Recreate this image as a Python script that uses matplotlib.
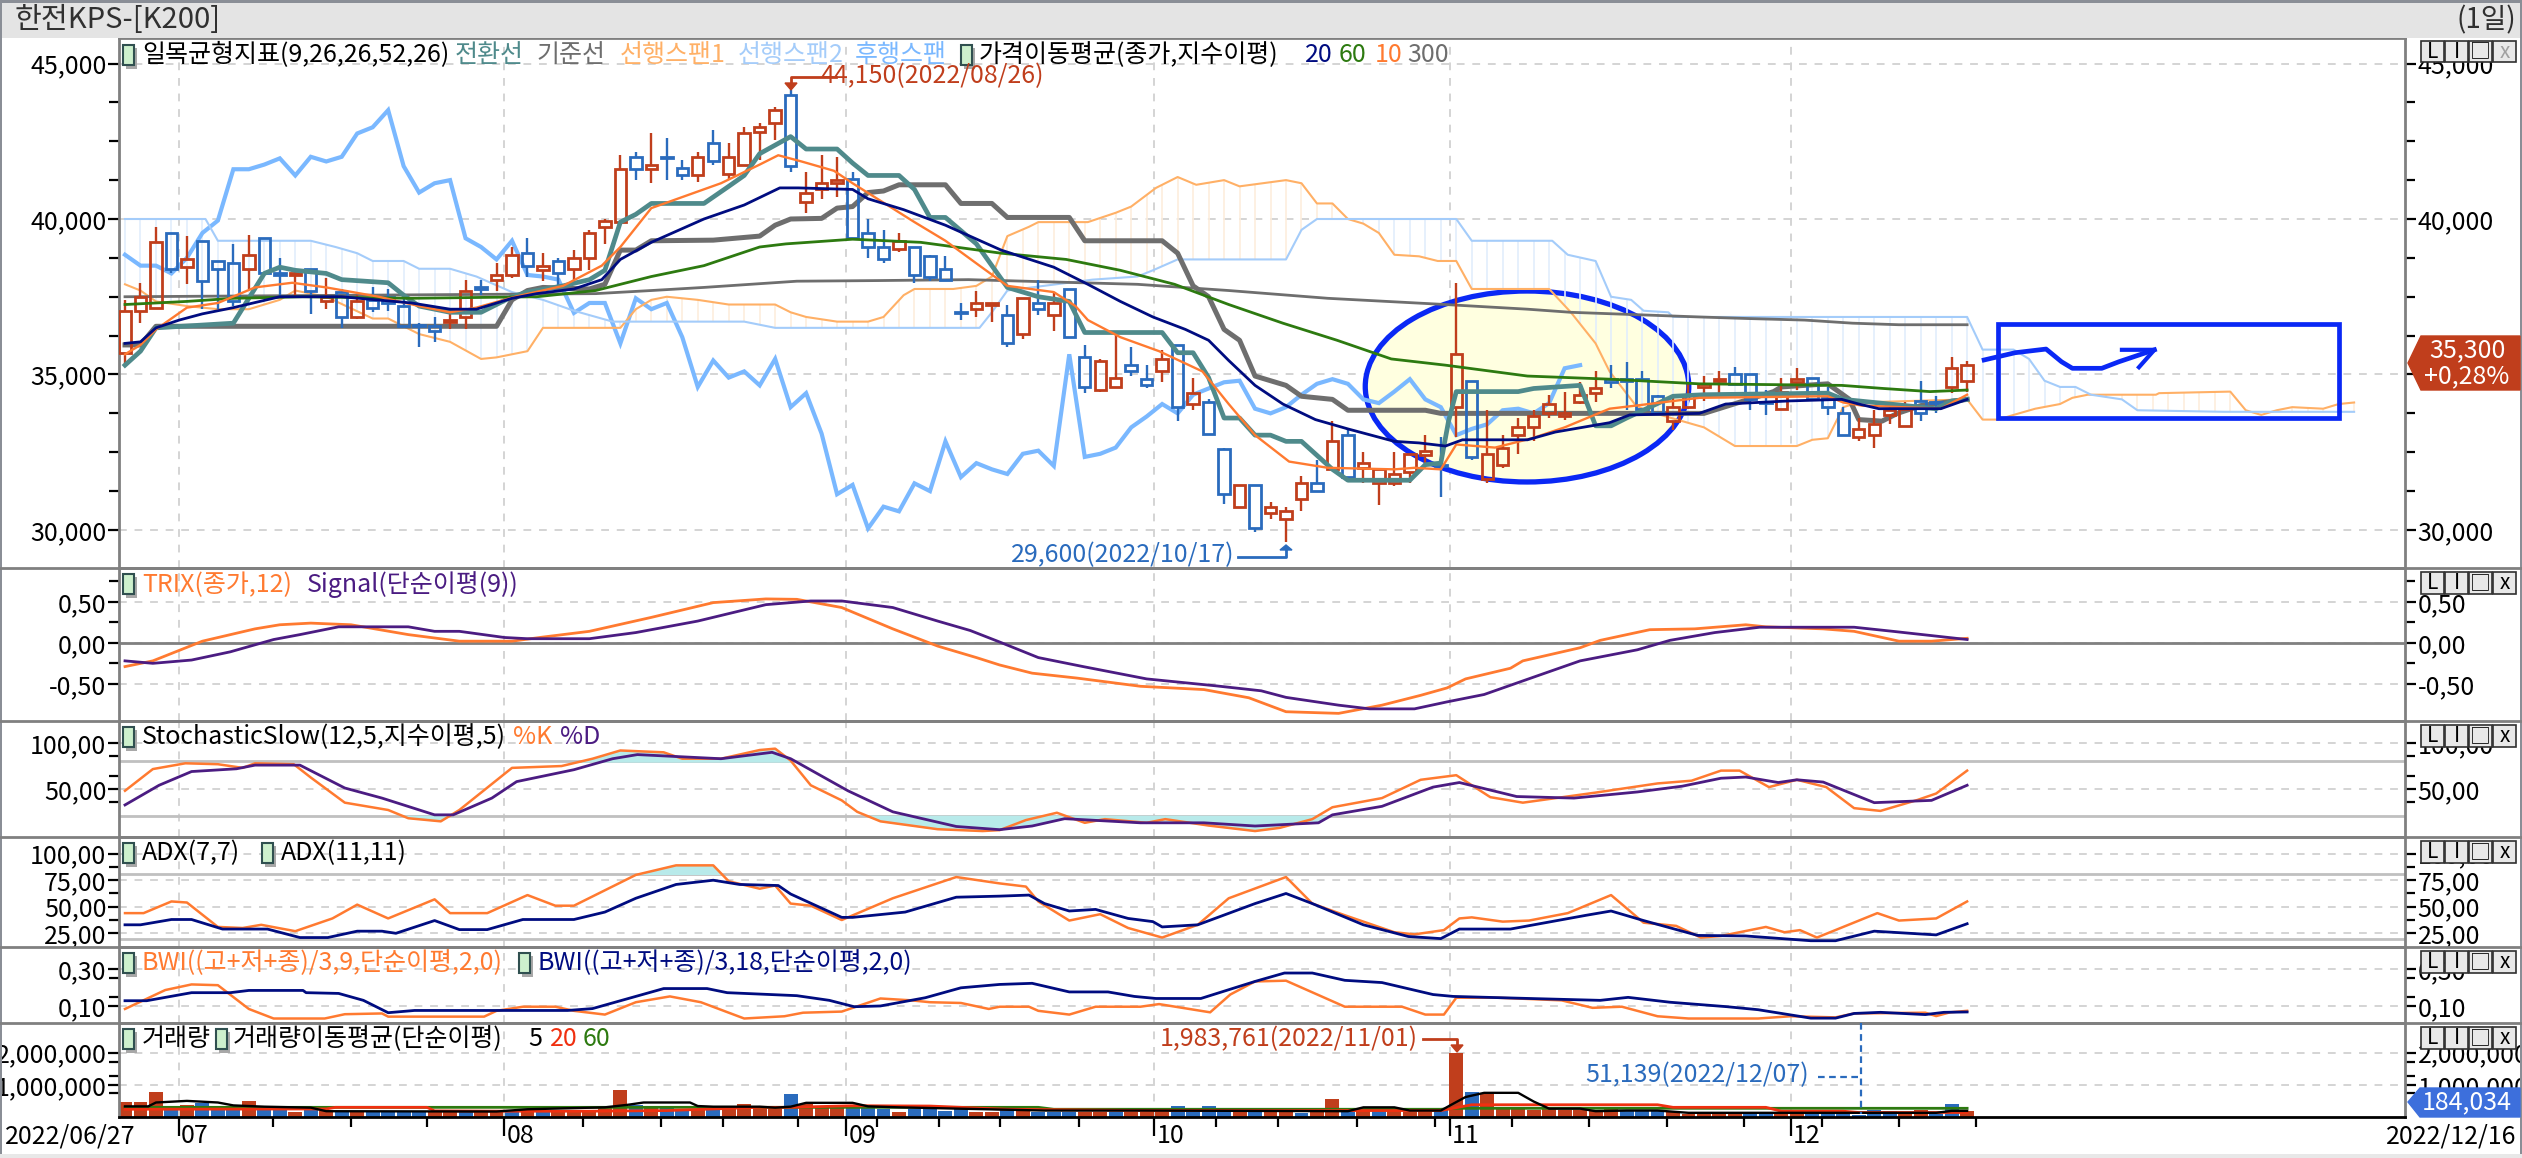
import numpy as np
import matplotlib
matplotlib.use("Agg")
import matplotlib.pyplot as plt
from matplotlib.patches import Ellipse, Rectangle, Polygon

plt.rcParams['font.family'] = ['Liberation Sans Narrow', 'Noto Sans CJK KR', 'DejaVu Sans']
plt.rcParams['font.size'] = 18
plt.rcParams['axes.unicode_minus'] = False

W, H = 2522, 1158

# candles: body top, body bottom, high, low
body_top = [37050,37500,39250,39550,38700,39300,38650,38600,38850,39400,38250,38250,38400,37500,37650,37350,37400,37500,37200,36600,
            36550,36750,37700,37800,38200,38850,38900,38500,38650,38750,39550,39950,41600,42000,41750,42000,41650,42000,42450,42000,
            42750,42950,43500,44000,40850,41150,41250,41300,39550,39100,39300,39100,38800,38400,37020,37300,37300,36900,37450,37300,
            37300,37750,35550,35450,34900,35300,34850,35500,35950,34400,34100,32600,31450,31450,30750,30600,31500,31500,32850,33050,
            32150,31950,31800,32450,32550,32100,35650,34800,32450,32650,33300,33650,34050,33750,34350,34550,34850,34850,34850,34300,
            33950,34350,34700,34850,35000,35000,34120,34450,34850,34900,34250,33750,33250,33400,33850,33900,34150,34120,35200,35300]
body_bot = [35700,37050,37150,38400,38450,38000,38400,37350,38400,38250,38200,38200,37700,37350,36850,36850,37150,37300,36550,36550,
            36400,36700,36850,37750,38050,38200,38500,38350,38250,38400,38750,39750,39900,41600,41600,41950,41400,41400,41850,41450,
            41750,42800,43100,41700,40550,40950,41150,39380,39100,38700,39050,38200,38150,38050,36980,37100,37250,36000,36300,37100,
            36900,36200,34600,34500,34600,35100,34650,35100,33950,34050,33100,31150,30750,30050,30550,30350,31000,31250,31950,31700,
            32000,31500,31500,31850,32400,32060,33950,32350,31650,32100,33050,33300,33750,33650,34100,34400,34750,34800,33900,33750,
            33500,33950,34600,34800,34700,34200,34080,33900,34750,34200,33950,33050,33000,33050,33700,33350,33750,34080,34600,34800]
high = [37400,37950,39750,39550,39450,39300,38650,39200,39500,39400,38750,38400,38400,38100,37750,37550,37800,37750,37500,36650,
        36850,37150,38050,38050,38600,39100,39400,38900,38750,39000,39650,40000,42050,42150,42750,42600,41900,42150,42850,42450,
        42950,43100,43600,44150,41500,42050,42000,41500,40000,39650,39550,39100,38850,38800,37300,37700,37300,37250,37450,38050,
        37650,37750,35950,35500,36400,35900,35300,35800,35950,34900,34200,32650,31450,31450,30900,30750,31750,32250,33500,33250,
        32500,31950,32500,32450,33050,33000,37950,34800,33850,33050,33600,33850,34350,34450,34750,35100,35300,35400,35100,34350,
        34350,34700,34950,35100,35250,35000,34500,34900,35200,34900,34600,33950,33600,33850,34000,34100,34800,34300,35550,35450]
low = [35350,36650,37100,38250,37900,37100,37100,37200,37750,38250,37450,37500,36950,37100,36500,36800,37000,37050,36500,35900,
       36050,36450,36450,37550,37700,38100,38150,38000,37850,38050,38350,39200,39800,41250,41150,41250,41250,41200,41750,41250,
       41700,41900,42550,41500,40200,40650,40700,39380,38750,38600,38950,37950,38000,38000,36750,36850,36700,35900,36150,36900,
       36400,36200,34400,34450,34600,34950,34550,34750,33500,33850,33050,30850,30750,29950,30350,29600,30600,31250,31950,31650,
       31500,30800,31400,31500,32100,31050,33000,32250,31500,32000,32450,32850,33600,33550,34050,34100,34550,33850,33850,33750,
       33200,33900,34150,34400,34650,33850,33700,33850,34500,34200,33700,33050,32850,32650,33400,33350,33500,33750,34400,34450]
# 1 when the candle closed above its open
rising = [1,1,1,0,1,0,0,0,1,0,0,1,0,1,0,1,0,0,0,0,
          0,1,1,0,1,1,0,1,0,1,1,1,1,0,1,0,0,1,0,1,
          1,1,1,0,1,1,1,0,0,0,1,0,0,0,0,1,1,0,1,0,
          1,0,0,1,1,0,0,1,0,1,0,0,1,0,1,1,1,0,1,0,
          1,1,1,1,1,0,1,0,1,1,1,1,1,1,1,1,0,0,0,0,
          1,1,1,1,0,0,0,1,1,0,0,0,1,1,1,1,0,0,1,1]

tenkan_x = [0,1,2,7,8,9,10,11,13,14,17,18,19,21,23,25,26,28.3,30,31,32,33,34,37.4,39,40,41,43,44,46,47,48,50,51,52,53,55,57,59,61,62,67,68,69,70,71,72,73,74,75,76,78,79,83,84,85,85.5,86,90,91,94,95,96,97,100,102,110,111,112,114,117,118,119]
tenkan = [35300,35750,36500,36650,37450,38250,38450,38350,38250,38050,37950,37550,37200,37000,37000,37500,37650,37850,38050,38350,39900,40150,40500,40500,41050,41400,42100,42650,42250,42250,41800,41400,41400,40950,40050,40050,39200,37800,37500,37350,36350,36350,35700,35700,34900,33600,33600,33050,33050,32850,32850,31950,31600,31600,32100,32150,33500,34450,34450,34550,34650,33350,33350,33600,34300,34350,34400,34200,34150,34050,33900,34150,34200]
kijun_x = [0,1,2,24,25,26,27,28,30,31,32,33,34,38,41,42,43,45,46,47,48,49,50,53,54,56,57,61,62,67,68,69,70,71,72,73,75,76,78,79,84,85,102,106.5,107,110,111.4,112,113.5,114.5,116,119]
kijun = [35950,35950,36550,36550,37400,37700,37800,37780,37750,37900,39000,39000,39300,39320,39450,39800,40000,40020,40350,40400,40850,40900,41100,41100,40500,40500,40050,40050,39300,39300,38900,37850,37500,36450,36100,34950,34650,34300,34200,33850,33850,33750,33750,34450,34600,34700,34200,33550,33500,33750,34000,34200]
ma20_x = [0,1,2,3.5,5,7,10,14,18.5,21,22.7,25,26.6,29,30.8,32,34,37.4,40,42.3,43.5,47,48,50.3,53,56.6,60,62.2,64.3,66.4,68.5,70,71.3,73,74.8,76.9,79,82,83.6,85.3,86.4,90.6,92.4,95.9,97.2,101.7,103.4,107.5,110.9,112,113.3,117.3,119]
ma20 = [36000,36050,36500,36750,36950,37150,37500,37500,37300,37100,37100,37450,37600,37750,38050,38700,39250,40000,40450,41000,41000,40950,40650,40300,39800,39000,38450,37900,37350,36850,36450,36100,35450,34650,34050,33550,33250,32850,32800,32700,32900,32900,33150,33450,33700,33750,34050,34150,34200,34050,33900,33900,34200]
ma60_x = [0,4,7,11.5,18.5,26.6,30.4,34,37.4,41,42.7,47,51.4,56.6,60.8,64.3,67.8,71.3,74.8,78.3,81.8,85.3,90.6,95.9,101.7,110.9,113.6,116.6,119]
ma60 = [37250,37350,37450,37500,37450,37500,37700,38150,38500,39100,39200,39350,39250,38900,38700,38350,37900,37250,36650,36100,35500,35300,34950,34850,34700,34650,34550,34450,34500]
ma10_x = [0,1,2,4,6,8.4,10.8,13,14.7,16.4,19,21,22.7,25.2,28.3,30.8,32,34,38.5,41,42.2,43.7,45.8,47,48.6,51,53,55.2,57,60,61.4,62.2,64.3,66.8,69.6,71.3,73,75.2,77.7,82,83.3,85,86,88.5,90.9,93,95.9,97.6,101.7,110,111,112.2,117.3,119]
ma10 = [35650,35950,36450,37150,37300,37800,37950,37800,37650,37500,37200,37000,37150,37500,37850,38500,39100,40350,41150,41750,42050,41850,41550,41150,40650,39900,39300,38500,37850,37650,37200,36750,36200,35750,35100,34050,33050,32200,32000,31950,32000,31950,32750,32650,32950,33300,33900,34000,34250,34300,34100,34000,33900,34350]
ma300_x = [0,30.4,34,37.4,43.4,48.6,54.5,65.4,71.3,77.7,85.3,90.6,93.4,101.7,104.8,108.5,111.6,114.6,119]
ma300 = [37500,37600,37700,37800,38000,38020,38050,37900,37700,37450,37250,37100,37000,36850,36800,36750,36650,36600,36600]
span2_x = [0,5.2,6,12,13.6,15,16,18,19,21,22.7,25,27,29,31.5,40,42,55.2,56,57,62.5,65.4,66.4,68,75,76,77,86,87,92.2,93.2,95,96,97.3,98.1,99.7,100,119,120,122,123,124,125,126,127,129,130,135.6,144]
span2 = [40000,40000,39300,39300,39100,38900,38650,38650,38400,38400,38150,37650,37400,37050,36700,36700,36500,36500,37000,37700,38050,38150,38350,38700,38700,39650,40000,40000,39300,39300,38850,38650,37500,37400,37050,37000,36850,36850,35800,35800,35500,34800,34600,34600,34350,34200,33850,33800,33800]
span1_x = [0,1,2,4,6,8,10,11,13,16,17,19,21,23,24,26,27,32,33,34,35,37,39,42,43,44,46,48,49,50.3,51,53.5,55,56,57,58.4,59,62.2,64,65,66.6,68,69.2,71,72,75,76,77,78,79,80,81,82,83.6,84.8,86,87,92,93.4,95,95.9,97.6,98.5,102,104,108,109,110,111,112,119,120,121,122,123.4,125,125.8,126.8,131.2,131.4,136,137,138,139,140,142,143,144]
span1 = [37900,37700,37350,37200,37100,37100,37400,37700,37500,36800,36800,36300,36050,35500,35550,35750,36500,36500,37100,37400,37500,37400,37250,37250,37000,36850,36700,36700,36850,37550,37750,37750,37850,38150,39450,39750,39900,39900,40200,40400,41000,41350,41100,41250,41050,41250,41150,40500,40500,40000,39850,39550,38850,38800,38650,38650,37750,37750,37000,36000,35100,34000,33800,33300,32700,32700,32900,32950,33950,34100,34200,33550,33550,33700,33900,34050,34250,34350,34350,34400,34450,33850,33700,33850,33950,33900,34050,34100]

trix_x = [0,1.8,5,8.4,10,12,14.6,18.3,21.6,25,27,30,34,38,41.4,43.4,46.3,49.6,52.5,55,56.5,58.6,61.5,65.6,69.7,72.6,75,78.4,81.2,83.7,85.4,86.6,89.5,90.3,94,95.3,98.5,101.4,104.7,106,109.7,111.7,114.6,116.7,119]
trix = [-.29,-.22,.02,.17,.22,.24,.22,.10,.02,.02,.07,.14,.31,.49,.535,.53,.43,.17,-.04,-.18,-.27,-.37,-.43,-.53,-.57,-.67,-.84,-.86,-.76,-.64,-.55,-.44,-.31,-.22,-.06,.03,.16,.17,.22,.195,.17,.14,.02,.02,.055]
signal_x = [0,1.8,4.3,6.8,9.6,11.3,13.8,18.3,20,21.6,24.5,26,30,33,37,41.4,44.3,46.3,49.6,52.5,54.6,56.5,59,61.9,66,70.5,73.4,75,78.4,80.4,83.3,85.4,87.8,91.5,94,97.7,99.8,102.7,105.6,111.7,114.2,119]
signal = [-.22,-.25,-.21,-.11,.04,.10,.195,.195,.14,.14,.065,.05,.05,.125,.265,.465,.51,.51,.43,.265,.15,.01,-.18,-.29,-.44,-.525,-.585,-.665,-.76,-.805,-.805,-.72,-.63,-.385,-.22,-.085,.03,.125,.19,.19,.14,.04]

stok_x = [0,1.8,3.9,6,7.6,8.4,10.9,12,14.2,17,18.3,20.4,21.6,25,28.2,30.2,32,34.8,36,38.5,41,42,43,44.3,46.3,47.3,48.8,52.5,55.4,56.5,58.2,60.2,62,63.3,66,67.2,70,73,74.6,76.7,78,81.2,83.7,86,88.2,90.3,95,99,101.2,103.1,104.3,106.2,108,109.9,111.7,113.4,115.8,117,119]
stok = [48,71.7,78,77,73,78,77,62.5,35,27,18,14.6,27,73,75,83,92,90,83,83,92.5,94,81,54,37.5,25,14.6,6,4,5,16,24,13,17,13,17,10,4,7.5,17,30,40,60,65,41,35,46,56,59,70,70,52,60,52,29,26,38,45,70]
stod_x = [0,2.2,4.3,7.2,8.4,11.3,14.2,16.6,20,21.2,23.7,25.3,29,31.5,33.1,38.5,41.8,43,46.7,49.6,53.7,56.5,58.6,60.7,65.6,69.7,73,77.1,78,81.2,84.5,86.2,89.9,93.6,97.7,100.6,103.1,104.7,106.8,108,109.7,113,116.7,119]
stod = [32.5,54,69,72,76,76,51,40,21.7,21.7,40,58,71,83,87.5,83,90,83,48,25,9,5.5,9.5,17.5,13,13,9.5,13,21.7,31,52,57,41.7,40,46.7,53,61.7,63,57,60,57.5,35,37.5,54]

adx7_x = [0,1.2,3,4,6,7.6,8.8,11,13.4,15,17,20,21,23.4,26,27.8,29,33,35.6,38,39,41,42,43,44.3,46.3,49.6,53.7,56.5,58.2,59,61,63,64.8,67,69.3,71.3,75,76.7,78.8,82,83.3,85.2,86.2,87,89,90.7,93.2,96,98.1,100.2,101.8,103.1,106,107.2,108.2,109.3,113.2,114.6,117,119]
adx7 = [44,44,55,54,31,30,33,27,39,52,39,57,44,44,61,51,51,80,89,89,74,67,70,53,51,37.5,58,78,72,69,55,37,43,30,21,33,58,78,53,42,26,24,28,39,40,36,37,44,61,35,32,21,22.5,31,26,28,21,44,37,39,55]
adx11_x = [0,1,3,4.3,6.3,9.2,11.3,13.1,15,16.6,17.5,20,21.6,23.4,25.7,29,31,33,35.6,38,39.7,42.2,43,46.3,47,50.4,53.7,56.5,58.4,59.4,61,62.7,64.8,66.4,67,69.3,73,75,76.7,80,82.9,85,86.2,89.5,94.4,96,98.1,101.6,104.7,108.9,110.5,113,117,119]
adx11 = [33,33,38,38,29,29,21,21,27,27,25,37,28.5,28.5,38,38,45,58,71,75,71,70,62,40,40,45,59,60,61,53,46,47.5,39,36,31,33,53,62.5,53,33,22,20,29,29,42,46,37,23,22.5,18,18,27,23.5,34]

bwi9_x = [0,2.6,4.3,6,8,9.6,12.9,14.2,16.6,17,23.2,24,25.7,27.8,29,31,33,35.2,37.2,40,42.6,43.8,46.3,48.8,50.8,52,54,55.8,56.5,58.4,59,61,62.7,65.6,66.8,70.1,71.4,73,75,78.8,82.5,84,85.2,86,88.7,92.8,94.8,96.7,99,101,105.5,107.6,110.5,111.7,116.3,117,117.9,119]
bwi9 = [.086,.187,.217,.213,.086,.035,.035,.058,.062,.045,.045,.076,.098,.098,.076,.056,.122,.153,.122,.035,.047,.066,.072,.142,.132,.122,.118,.086,.098,.098,.076,.056,.098,.098,.112,.068,.163,.233,.237,.098,.098,.056,.056,.146,.146,.132,.092,.098,.047,.035,.035,.047,.041,.062,.066,.048,.068,.076]
bwi18_x = [0,1.4,4.3,6.8,8,11.5,11.7,13.8,15.4,17,18.7,28.6,30.2,34.8,37.6,38.9,43.4,45.5,47.1,48.8,51.7,54,56.5,58.6,61,63.5,65.2,66.6,69.5,73,74.9,76.7,78.8,81.2,84.5,85.8,90.7,95.3,97.1,99.8,103.5,105.5,108.9,110.5,111.7,113.4,116.3,117.5,119]
bwi18 = [.13,.13,.173,.173,.185,.185,.173,.169,.132,.066,.078,.078,.088,.195,.195,.173,.157,.132,.098,.102,.146,.199,.217,.223,.177,.177,.153,.142,.142,.233,.278,.278,.239,.227,.163,.153,.142,.132,.148,.122,.098,.082,.037,.037,.062,.068,.056,.068,.07]

volume = [476,452,774,270,380,440,274,274,510,300,202,155,260,180,180,180,145,145,145,145,
          180,155,155,214,214,155,180,155,180,180,180,333,833,357,333,333,238,238,238,238,
          390,298,298,714,415,274,298,298,298,238,155,238,274,180,274,155,155,214,214,155,
          155,155,155,155,155,155,155,155,330,155,330,155,155,155,155,155,119,155,570,214,
          214,238,214,155,202,202,1983.761,770,714,274,274,214,274,214,214,214,238,180,180,180,
          155,83,83,83,83,83,119,83,83,83,119,83,51.139,202,180,119,214,83,390,184.034]
vol_colors = "rrrbrbbbrbbrbrbrbbbbrrbrrbrbrrrrrbrbbrbrrrrbrrrbbbrbbbbrr"[:57] + \
             "brbbbrrbrrrbbbbrbrrbrrbrbrrrbrbrrrrrrrrrbbbrrrrrbbrrbbbbbbrrrbbrr"[:0]
vol_colors = "rrrbrbbbrbbrbrbrbbbbrrbrrbrbrrrrrbrbbrbrrrrbrrrbbbrbbbbrr" + \
             "brbbbrrbrrrbbbbrbrrbrrbrbrrrbrbrrrrrrrrrbbbrrrrrbbrrbbbbbbrrbbrr"
vol_colors = (vol_colors + "r" * 120)[:120]

vol5_x = [0,1.5,2,4,6,7,9,12,13,24,26,31,32.5,33.5,36.5,37,38,41,42,43,44,47,48,50,59.4,65.6,79,80,82,83,85,85.6,86.6,87.8,90,91,92,94,95,97,99,101,105,107,112,117,118,119]
vol5 = [330,330,450,500,450,360,320,290,180,170,240,300,380,450,450,340,320,320,290,320,440,440,330,300,200,200,180,300,300,200,200,360,620,750,750,480,260,260,180,200,200,130,130,130,130,130,190,190]
vol20_x = [0,13,13.6,19.5,20,25,30,35,41,43,47,52,57,66,85,87,99,100,106,107,111,112,119]
vol20 = [240,250,300,300,190,180,180,200,300,300,350,340,240,200,200,380,380,300,300,180,180,140,140]
vol60_x = [0,40,59,60,85,86,119]
vol60 = [300,300,300,240,240,270,270]

price_ticks = [45000, 40000, 35000, 30000]
price_labels = ["45,000", "40,000", "35,000", "30,000"]
month_pos = [3.5, 24.5, 46.6, 66.5, 85.6, 107.6]
month_labels = ["07", "08", "09", "10", "11", "12"]
week_pos = [9.56,14.6,19.5,29.6,34.6,38.6,43.5,48.6,52.6,56.5,61.6,70.5,74.5,79.6,84.6,89.6,94.6,99.6,104.6,109.6,114.6,119.6]

RED = "#c03e1c"
BLUE = "#2a6bbd"
TEAL = "#4f8a8b"
GRAY = "#6e6e6e"
NAVY = "#000c80"
GREEN = "#2d7a10"
ORANGE = "#ff7a30"
PURPLE = "#4b1c82"
SPAN1 = "#ffb066"
SPAN2 = "#a4ccfa"
CHIKOU = "#7ab8ff"
FRAME = "#808080"
DRAW = "#0a28f5"

fig = plt.figure(figsize=(W / 100, H / 100), dpi=100, facecolor="white")

def panel(top, bottom, ylim):
    ax = fig.add_axes([119 / W, 1 - bottom / H, (2405 - 119) / W, (bottom - top) / H])
    ax.set_xlim((119 - 125) / 15.48, (2405 - 125) / 15.48)
    ax.set_ylim(*ylim)
    ax.set_xticks([])
    for side in ["left", "right", "top", "bottom"]:
        ax.spines[side].set_color(FRAME)
        ax.spines[side].set_linewidth(2)
    for m in month_pos:
        ax.axvline(m, color="#d4d4d4", lw=1.4, ls=(0, (4, 4)), zorder=0)
    return ax

def set_ticks(ax, major, labels, minor):
    ax.set_yticks(major, labels)
    ax.set_yticks(minor, minor=True)
    ax.tick_params(axis="y", which="major", left=True, right=True, labelleft=True, labelright=True,
                   length=8, width=1.6, pad=1, labelsize=18)
    ax.tick_params(axis="y", which="minor", left=True, right=True, length=7, width=1.6)
    for v in major:
        ax.axhline(v, color="#d4d4d4", lw=1.4, ls=(0, (4, 4)), zorder=0)

# price panel
ax = panel(38, 568, (28778, 45820))
set_ticks(ax, price_ticks, price_labels, [43750, 42500, 41250, 38750, 37500, 36250, 33750, 32500, 31250])
ax.add_patch(Ellipse((90.57, 34614), 20.9, 6140, facecolor="#ffffe0", edgecolor=DRAW, lw=3.8, zorder=1))

cloud_x = np.arange(0, 145)
s1 = np.interp(cloud_x, span1_x, span1)
s2 = np.interp(cloud_x, span2_x, span2)
ax.vlines(cloud_x[s2 >= s1], s1[s2 >= s1], s2[s2 >= s1], color="#e2edfc", lw=1.2, zorder=1.5)
ax.vlines(cloud_x[s2 < s1], s2[s2 < s1], s1[s2 < s1], color="#fdeedd", lw=1.2, zorder=1.5)

idx = np.arange(len(high))
close = np.array([t if r else b for t, b, r in zip(body_top, body_bot, rising)])
ax.plot(idx[:95], close[25:], color=CHIKOU, lw=3, zorder=2, solid_joinstyle="miter")
ax.plot(span1_x, span1, color=SPAN1, lw=1.5, zorder=2)
ax.plot(span2_x, span2, color=SPAN2, lw=1.5, zorder=2)
ax.plot(ma300_x, ma300, color=GRAY, lw=2.0, zorder=2)
ax.plot(kijun_x, kijun, color=GRAY, lw=3.6, zorder=3)

cols = [RED if r else BLUE for r in rising]
top_arr = np.array(body_top)
bot_arr = np.array(body_bot)
ax.vlines(idx, top_arr, high, color=cols, lw=1.7, zorder=4)
ax.vlines(idx, low, bot_arr, color=cols, lw=1.7, zorder=4)
ax.bar(idx, top_arr - bot_arr, bottom=bot_arr, width=0.74, facecolor="none", edgecolor=cols, linewidth=2, zorder=4)

ax.plot(tenkan_x, tenkan, color=TEAL, lw=3.4, zorder=5)
ax.plot(ma60_x, ma60, color=GREEN, lw=2.0, zorder=5)
ax.plot(ma10_x, ma10, color=ORANGE, lw=1.7, zorder=5)
ax.plot(ma20_x, ma20, color=NAVY, lw=2.0, zorder=5)

# hand drawn box and arrow
ax.add_patch(Rectangle((121.0, 33600), 22.0, 3035, facecolor="none", edgecolor=DRAW, lw=3.4, zorder=6))
ax.plot([120.1, 122.1, 124.1, 125.1, 125.8, 127.7, 128.8, 131.1],
        [35467, 35700, 35818, 35409, 35199, 35199, 35409, 35794], color=DRAW, lw=3.4, zorder=6)
ax.plot([129, 131.1, 130.1], [35794, 35794, 35234], color=DRAW, lw=3.0, zorder=6)

# TRIX panel
ax_t = panel(568.4, 721, (-0.953, 0.907))
set_ticks(ax_t, [0.5, 0, -0.5], ["0,50", "0,00", "-0,50"], [0.75, 0.25, -0.25])
ax_t.axhline(0, color=FRAME, lw=2, zorder=1)
ax_t.plot(trix_x, trix, color=ORANGE, lw=2, zorder=3)
ax_t.plot(signal_x, signal, color=PURPLE, lw=2, zorder=3)

# Stochastic panel
ax_s = panel(721, 837, (-2.5, 124.2))
set_ticks(ax_s, [100, 50], ["100,00", "50,00"], [86, 64, 36])
ax_s.axhline(80, color="#c0c0c0", lw=2, zorder=1)
ax_s.axhline(20, color="#c0c0c0", lw=2, zorder=1)
xx = np.arange(0, 119.01, 0.1)
k = np.interp(xx, stok_x, stok)
d = np.interp(xx, stod_x, stod)
ax_s.fill_between(xx, 80, np.maximum(k, d), where=np.maximum(k, d) > 80, color="#b8eaea", zorder=2)
ax_s.fill_between(xx, 20, np.minimum(k, d), where=np.minimum(k, d) < 20, color="#b8eaea", zorder=2)
ax_s.plot(stok_x, stok, color=ORANGE, lw=1.8, zorder=3)
ax_s.plot(stod_x, stod, color=PURPLE, lw=2, zorder=3)

# ADX panel
ax_a = panel(837, 947, (12.1, 115.7))
set_ticks(ax_a, [100, 75, 50, 25], ["100,00", "75,00", "50,00", "25,00"], [87.5, 62.5, 37.5])
ax_a.axhline(81, color="#c0c0c0", lw=2, zorder=1)
ax_a.axhline(20, color="#c0c0c0", lw=2, zorder=1)
a7 = np.interp(xx, adx7_x, adx7)
ax_a.fill_between(xx, 81, a7, where=a7 > 81, color="#b8eaea", zorder=2)
ax_a.plot(adx7_x, adx7, color=ORANGE, lw=1.8, zorder=3)
ax_a.plot(adx11_x, adx11, color=NAVY, lw=2, zorder=3)

# BWI panel
ax_b = panel(947, 1023, (0.011, 0.417))
set_ticks(ax_b, [0.3, 0.1], ["0,30", "0,10"], [0.25, 0.15])
ax_b.plot(bwi9_x, bwi9, color=ORANGE, lw=1.8, zorder=3)
ax_b.plot(bwi18_x, bwi18, color=NAVY, lw=2, zorder=3)

# volume panel
ax_v = panel(1023, 1117, (0, 2917))
set_ticks(ax_v, [2000, 1000], ["2,000,000", "1,000,000"], [1700, 1270, 750])
ax_v.bar(idx, volume, width=0.9, color=[RED if c == "r" else BLUE for c in vol_colors], zorder=2)
ax_v.plot(vol60_x, vol60, color=GREEN, lw=2, zorder=3)
ax_v.plot(vol20_x, vol20, color="#f03010", lw=2, zorder=3)
ax_v.plot(vol5_x, vol5, color="black", lw=1.7, zorder=4)
ax_v.spines["bottom"].set_color("black")
ax_v.spines["bottom"].set_linewidth(2)
ax_v.set_xticks(month_pos, [""] * 6)
ax_v.set_xticks(week_pos, minor=True)
ax_v.tick_params(axis="x", which="major", length=14, width=1.6)
ax_v.tick_params(axis="x", which="minor", length=7, width=1.6)

# everything drawn in screen pixels on top: header, legends, buttons, badges
top = fig.add_axes([0, 0, 1, 1], facecolor="none", zorder=20)
top.set_xlim(0, W)
top.set_ylim(H, 0)
top.axis("off")

def label(x, y, s, color="black", ha="left", size=18):
    top.text(x, y, s, color=color, ha=ha, va="center", fontsize=size)

def icon(x, y):
    top.add_patch(Rectangle((x + 3, y + 3), 11, 21, facecolor="#a8a8a8", edgecolor="none"))
    top.add_patch(Rectangle((x, y), 11, 20, facecolor="#cdf0cd", edgecolor="#305050", lw=1.5))

def buttons(y, h, last="black"):
    for i, s in enumerate(["L", "I", "□", "x"]):
        top.add_patch(Rectangle((2421 + i * 24, y), 23, h, facecolor="#e8e8e8", edgecolor="#303030", lw=1.2))
        label(2432.5 + i * 24, y + h / 2, s, color=last if i == 3 else "black", ha="center", size=15)

top.add_patch(Rectangle((0, 0), W, 38, facecolor="#e4e4e4", edgecolor="none"))
top.add_patch(Rectangle((0, 0), W, 2.5, facecolor="#8a8e96", edgecolor="none"))
top.add_patch(Rectangle((0, 0), 2, 1158, facecolor="#8a8e96", edgecolor="none"))
top.add_patch(Rectangle((W - 2, 0), 2, 1158, facecolor="#8a8e96", edgecolor="none"))
top.add_patch(Rectangle((0, 1154), W, 4, facecolor="#e8e8e8", edgecolor="none"))
for py in [568.4, 721, 837, 947, 1023]:
    top.plot([0, W], [py, py], color=FRAME, lw=2)
label(14, 20, "한전KPS-[K200]", color="#303030", size=21)
label(2516, 20, "(1일)", color="#303030", ha="right", size=20)

icon(123, 45)
label(142, 55, "일목균형지표(9,26,26,52,26)")
label(455, 55, "전환선", TEAL)
label(537, 55, "기준선", GRAY)
label(620, 55, "선행스팬1", SPAN1)
label(738, 55, "선행스팬2", SPAN2)
label(855, 55, "후행스팬", CHIKOU)
icon(961, 45)
label(979, 55, "가격이동평균(종가,지수이평)")
label(1305, 55, "20", NAVY)
label(1339, 55, "60", GREEN)
label(1375, 55, "10", ORANGE)
label(1407, 55, "300", GRAY)

icon(123, 574)
label(142, 585, "TRIX(종가,12)", ORANGE)
label(307, 585, "Signal(단순이평(9))", PURPLE)
icon(123, 727)
label(142, 737, "StochasticSlow(12,5,지수이평,5)")
label(513, 737, "%K", ORANGE)
label(560, 737, "%D", PURPLE)
icon(123, 843)
label(142, 853, "ADX(7,7)")
icon(262, 843)
label(281, 853, "ADX(11,11)")
icon(123, 953)
label(142, 963.5, "BWI((고+저+종)/3,9,단순이평,2,0)", ORANGE)
icon(519, 953)
label(537, 963.5, "BWI((고+저+종)/3,18,단순이평,2,0)", NAVY)
icon(123, 1029)
label(142, 1039, "거래량")
icon(216, 1029)
label(233, 1039, "거래량이동평균(단순이평)")
label(528, 1039, "5")
label(550, 1039, "20", "#f03010")
label(583, 1039, "60", GREEN)

# high / low / volume callouts
label(1044, 76, "44,150(2022/08/26)", RED, ha="right")
top.plot([836, 791, 791], [77, 77, 84], color=RED, lw=2)
top.add_patch(Polygon([[785, 83], [797, 83], [791, 90]], color=RED))
label(1234, 555, "29,600(2022/10/17)", BLUE, ha="right")
top.plot([1238, 1286, 1286], [557, 557, 548], color=BLUE, lw=2)
top.add_patch(Polygon([[1280, 550], [1292, 550], [1286, 545]], color=BLUE))
label(1418, 1039, "1,983,761(2022/11/01)", RED, ha="right")
top.plot([1423, 1457, 1457], [1039, 1039, 1046], color=RED, lw=2)
top.add_patch(Polygon([[1451, 1045], [1463, 1045], [1457, 1052]], color=RED))
label(1809, 1075, "51,139(2022/12/07)", BLUE, ha="right")
top.plot([1818, 1861], [1077, 1077], color=BLUE, lw=1.6, ls=(0, (3, 2)))
top.plot([1861, 1861], [1023, 1114], color=BLUE, lw=1.6, ls=(0, (3, 2)))

# x labels
label(5, 1136, "2022/06/27")
label(2516, 1136, "2022/12/16", ha="right")
for m, s in zip(month_pos, month_labels):
    label(125 + m * 15.48 + 2, 1136, s)

buttons(41, 21, last="#a0a0a0")
for y in [572, 725, 841, 951, 1027]:
    buttons(y, 22)

# price and volume badges
top.add_patch(Polygon([[2408, 363], [2421, 336], [2520, 336], [2520, 390], [2421, 390]], color=RED))
label(2467, 350, "35,300", "white", ha="center")
label(2467, 376, "+0,28%", "white", ha="center")
top.add_patch(Polygon([[2408, 1102], [2420, 1088], [2520, 1088], [2520, 1117], [2420, 1117]], color="#3d6fdc"))
label(2467, 1102, "184,034", "white", ha="center")

fig.savefig("out.png", dpi=100)
